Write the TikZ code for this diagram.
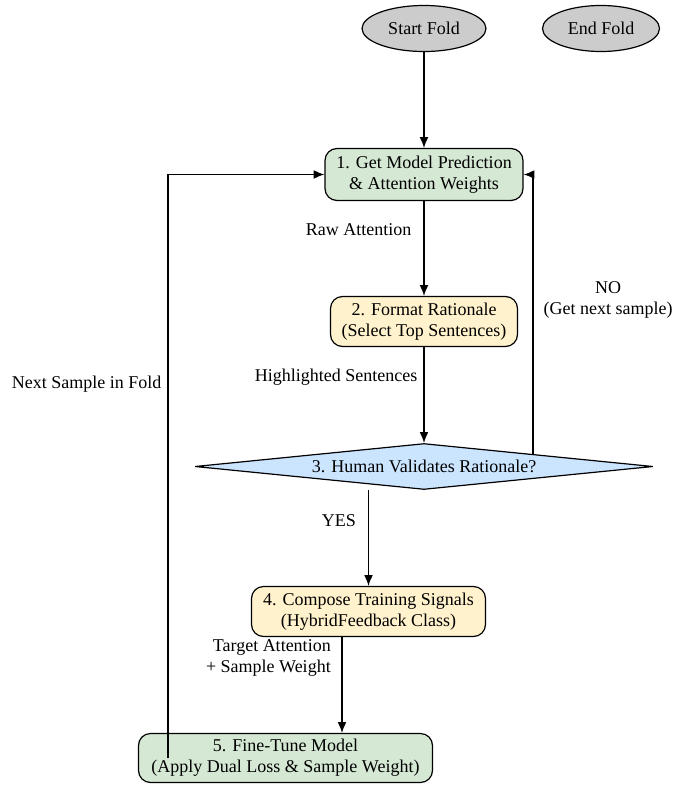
\documentclass[tikz,border=0pt]{standalone}
\usepackage{fontspec}
\setmainfont{Liberation Serif}
\usepackage{xcolor}
\usetikzlibrary{arrows.meta}
\usetikzlibrary{shapes.geometric}
\usetikzlibrary{calc}

\definecolor{foldGray}{HTML}{CCCCCC}
\definecolor{modelGreen}{HTML}{D5E8D4}
\definecolor{signalYellow}{HTML}{FFF2CC}
\definecolor{humanBlue}{HTML}{CCE5FF}

\begin{document}
\begin{tikzpicture}[>={Latex[length=8pt,width=6.5pt]}, x=0.75pt, y=-0.75pt, line width=0.9pt,
        font=\fontsize{13.5}{15.5}\selectfont,
        terminal/.style={draw, ellipse, fill=foldGray, inner sep=0pt, minimum height=46*0.75pt},
        box/.style={draw, rounded corners=9pt, align=center, inner sep=2pt},
        greenBox/.style={box, fill=modelGreen},
        yellowBox/.style={box, fill=signalYellow},
        decision/.style={draw, diamond, aspect=9.8, inner sep=0pt, fill=humanBlue},
        lbl/.style={inner sep=0pt, align=right}]
        \def\px{0.75pt}
        \useasboundingbox (0,0) rectangle (685,789);

        \node[terminal, minimum width=124*\px] (start) at (424,28.5) {Start Fold};
        \node[terminal, minimum width=117*\px] (end) at (601,28.5) {End Fold};
        \node[greenBox, minimum width=198*\px, minimum height=52*\px] (predict) at (424,174.5) {1. Get Model Prediction\\\& Attention Weights};
        \node[yellowBox, minimum width=187*\px, minimum height=50*\px] (format) at (424,321.5) {2. Format Rationale\\(Select Top Sentences)};
        \node[decision, minimum width=458*\px, minimum height=46*\px] (validate) at (424,466.5) {3. Human Validates Rationale?};
        \node[yellowBox, minimum width=234*\px, minimum height=50*\px] (compose) at (368.5,611.5) {4. Compose Training Signals\\(HybridFeedback Class)};
        \node[greenBox, minimum width=294*\px, minimum height=49*\px] (finetune) at (285.5,758) {5. Fine-Tune Model\\(Apply Dual Loss \& Sample Weight)};

        \coordinate (mid) at ($(compose.south west)!0.5!(finetune.north east)$);

        \draw[->] (start) -- (predict);
        \draw[->] (predict) -- (format) node[lbl, pos=0.3, left=9pt] {Raw Attention};
        \draw[->] (format) -- (validate) node[lbl, pos=0.31, left=4.5pt] {Highlighted Sentences};
        \draw[->] (validate.south -| compose.north) -- (compose.north) node[lbl, pos=0.32, left=9pt] {YES};
        \draw[->] (mid |- compose.south) -- (mid |- finetune.north) node[lbl, pos=0.22, left=8pt] {Target Attention\\+ Sample Weight};
        \draw[->] ($(validate.center)+(109,-11.5)$) |- (predict.east) node[lbl, pos=0.276, right=7.5pt, align=center] {NO\\(Get next sample)};
        \draw[->] ($(finetune.west)+(30,0)$) |- (predict.west) node[lbl, pos=0.32, left=4.5pt] {Next Sample in Fold};
    \end{tikzpicture}
\end{document}
